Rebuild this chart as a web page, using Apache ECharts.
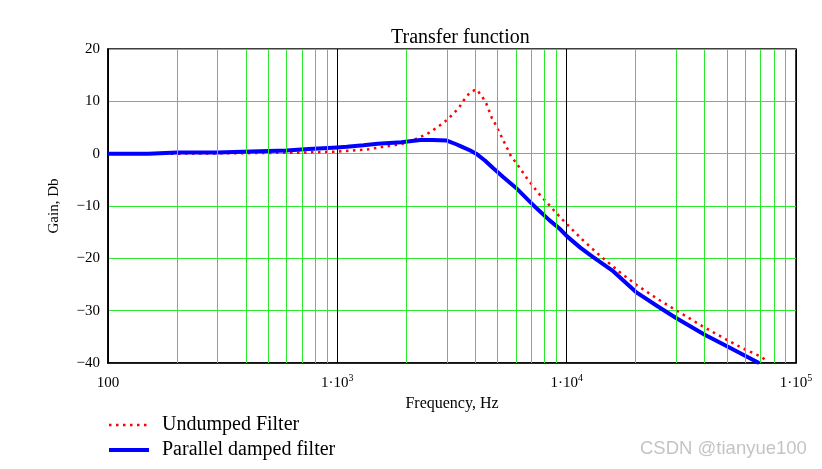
<!DOCTYPE html>
<html>
<head>
<meta charset="utf-8">
<title>Transfer function</title>
<script src="https://cdn.jsdelivr.net/npm/echarts@6/dist/echarts.min.js"></script>
<style>
  html, body { margin: 0; padding: 0; background: #fff; }
  #transferChartContainer { width: 822px; height: 469px; }
</style>
</head>
<body>
<div id="transferChartContainer"></div>
<script>
// frequencies in Hz, gains in dB
var undampedFreq = [100, 200, 400, 700, 1000, 1350, 1530, 1900, 2200, 2520, 2840, 3020, 3380, 3560, 3770, 4030,
  4240, 4460, 4710, 4920, 5300, 5720, 6010, 6710, 7550, 8460, 9440, 10200, 11750, 13900, 16900, 20200,
  25200, 30200, 39200, 48200, 58600, 70400, 75400];
var undampedGain = [0, 0, 0.1, 0.2, 0.4, 0.8, 1.2, 1.8, 2.8, 4.0, 5.6, 6.5, 8.7, 10.2, 11.6, 12.3,
  11.2, 9.6, 6.9, 5.4, 2.5, -0.5, -1.7, -4.7, -7.6, -10.0, -12.3, -13.8, -16.5, -19.4, -22.5, -25.1,
  -27.9, -30.0, -33.0, -35.2, -37.2, -38.8, -39.8];

var dampedFreq = [100, 150, 200, 300, 420, 600, 750, 1000, 1100, 1300, 1500, 1900, 2300, 2600, 3000, 3300,
  3500, 3800, 4030, 4400, 4760, 5300, 6000, 7100, 8400, 9300, 10100, 11500, 13000, 16000, 20000,
  25000, 30000, 40000, 50000, 60000, 69000];
var dampedGain = [0, 0, 0.2, 0.2, 0.4, 0.6, 0.9, 1.2, 1.3, 1.6, 1.9, 2.2, 2.6, 2.6, 2.5, 1.8,
  1.3, 0.6, 0, -1.3, -2.7, -4.5, -6.5, -9.7, -12.7, -14.3, -15.9, -18.0, -19.7, -22.5, -26.4,
  -29.2, -31.4, -34.6, -36.8, -38.6, -40];

// minor (green) vertical grid lines between the decades
var minorGridFreq = [200, 300, 400, 500, 600, 700, 800, 900,
  2000, 3000, 4000, 5000, 6000, 7000, 8000, 9000,
  20000, 30000, 40000, 50000, 60000, 70000, 80000, 90000];

var seriesNames = ['Undumped Filter', 'Parallel damped filter'];

var serifFont = '"Liberation Serif", "Times New Roman", serif';
var gridGreen = '#2ee82e';

function pairUp(xs, ys) {
  var out = [];
  for (var i = 0; i < xs.length; i++) {
    out.push([xs[i], ys[i]]);
  }
  return out;
}

var transferDom = document.getElementById('transferChartContainer');
var transferChart = echarts.init(transferDom);

var transferOption = {
  animation: false,
  backgroundColor: '#fff',
  title: {
    text: 'Transfer function',
    left: 386,
    top: 23,
    textStyle: { fontFamily: serifFont, fontSize: 20, fontWeight: 'normal', color: '#000' }
  },
  legend: {
    data: [
      { name: seriesNames[0], lineStyle: { width: 2.5 } },
      { name: seriesNames[1], lineStyle: { width: 4 } }
    ],
    orient: 'vertical',
    left: 102,
    top: 410,
    itemWidth: 40,
    itemHeight: 14,
    itemGap: 5,
    itemStyle: { opacity: 0 },
    textStyle: { fontFamily: serifFont, fontSize: 20, color: '#000', padding: [0, 0, 0, 8] }
  },
  grid: {
    left: 108,
    right: 26,
    top: 49,
    bottom: 106,
    show: true,
    borderColor: '#000',
    borderWidth: 1.5,
    backgroundColor: 'transparent'
  },
  xAxis: {
    type: 'log',
    logBase: 10,
    min: 100,
    max: 100000,
    name: 'Frequency, Hz',
    nameLocation: 'middle',
    nameGap: 27,
    nameTextStyle: { fontFamily: serifFont, fontSize: 16, color: '#000' },
    axisLine: { show: true, onZero: false, lineStyle: { color: '#000', width: 1.5 } },
    axisTick: { show: false },
    splitLine: { show: true, lineStyle: { color: '#000', width: 1 } },
    minorTick: { show: false },
    axisLabel: {
      margin: 10,
      color: '#000',
      formatter: function (val) {
        var p = Math.round(Math.log(val) / Math.LN10);
        if (p === 2) {
          return '{a|100}';
        }
        return '{a|1·10}{sup|' + p + '}';
      },
      rich: {
        a: { fontFamily: serifFont, fontSize: 15, color: '#000', lineHeight: 20 },
        sup: { fontFamily: serifFont, fontSize: 10, color: '#000', padding: [0, 0, 9, 0] }
      }
    }
  },
  yAxis: {
    type: 'value',
    min: -40,
    max: 20,
    interval: 10,
    name: 'Gain, Db',
    nameLocation: 'middle',
    nameGap: 46,
    nameTextStyle: { fontFamily: serifFont, fontSize: 15, color: '#000' },
    axisLine: { show: true, lineStyle: { color: '#000', width: 1.5 } },
    axisTick: { show: false },
    splitLine: { show: true, lineStyle: { color: gridGreen, width: 1 } },
    axisLabel: {
      margin: 8,
      fontFamily: serifFont,
      fontSize: 15,
      color: '#000',
      formatter: function (val) {
        return String(val).replace('-', '\u2212');
      }
    }
  },
  series: [
    {
      name: 'minor grid',
      type: 'line',
      data: [],
      z: 1,
      silent: true,
      markLine: {
        silent: true,
        symbol: ['none', 'none'],
        label: { show: false },
        lineStyle: { color: gridGreen, type: 'solid', width: 1 },
        data: minorGridFreq.map(function (f) { return { xAxis: f }; })
      }
    },
    {
      name: seriesNames[0],
      type: 'line',
      data: pairUp(undampedFreq, undampedGain),
      showSymbol: false,
      symbol: 'none',
      z: 3,
      color: '#ff0000',
      lineStyle: { color: '#ff0000', width: 2.5, type: [2.5, 4.5] }
    },
    {
      name: seriesNames[1],
      type: 'line',
      data: pairUp(dampedFreq, dampedGain),
      showSymbol: false,
      symbol: 'none',
      z: 4,
      color: '#0000ff',
      lineStyle: { color: '#0000ff', width: 4 }
    }
  ],
  graphic: [
    {
      type: 'text',
      left: 640,
      top: 439,
      style: {
        text: 'CSDN @tianyue100',
        fontFamily: '"Liberation Sans", Arial, sans-serif',
        fontSize: 18.5,
        fill: '#c4c4c4'
      }
    }
  ]
};

transferChart.setOption(transferOption);
</script>
</body>
</html>
